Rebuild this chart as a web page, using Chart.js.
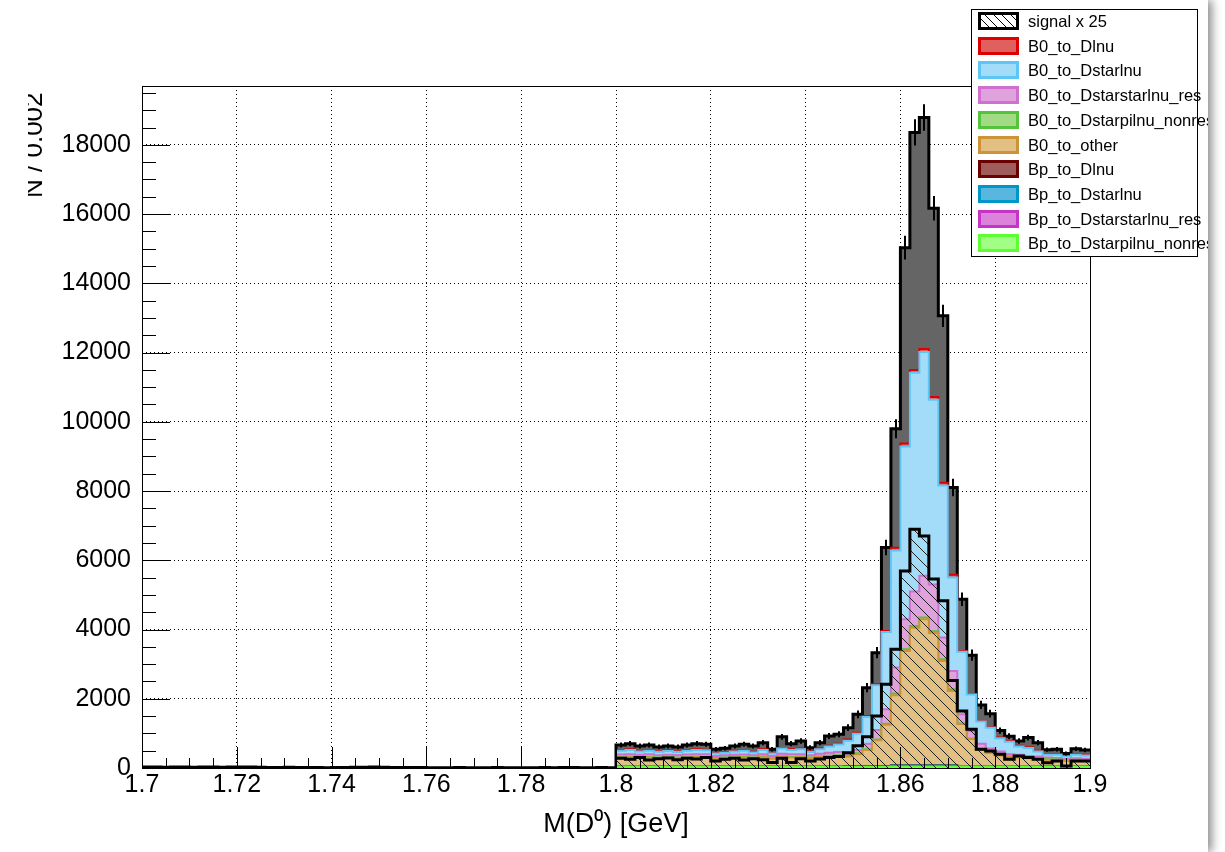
<!DOCTYPE html>
<html>
<head>
<meta charset="utf-8">
<script src="https://cdn.jsdelivr.net/npm/chart.js@4.4.1/dist/chart.umd.min.js"></script>
<style>
html,body{margin:0;padding:0;background:#fff;}
#frame{position:absolute;left:0;top:0;width:1208px;height:852px;overflow:hidden;background:#fff;box-shadow:4px 0 9px rgba(0,0,0,0.45);}
#c{position:absolute;left:0;top:0;}
#ytitle{position:absolute;left:28px;top:80px;width:30px;height:130px;overflow:hidden;}
#ytitle span{position:absolute;left:-8px;top:118px;transform-origin:0 0;transform:rotate(-90deg);white-space:nowrap;font:26px 'Liberation Sans',Arial,sans-serif;line-height:26px;color:#000;}
#legend{position:absolute;left:971px;top:9px;width:225px;height:246px;border:1px solid #000;background:#fff;}
.lbox{position:absolute;left:6px;width:41px;height:18px;box-sizing:border-box;border:3px solid #000;}
.ltxt{position:absolute;left:56px;height:18px;line-height:18px;font:16.5px 'Liberation Sans',Arial,sans-serif;color:#000;white-space:nowrap;}
</style>
</head>
<body>
<div id="frame">
  <canvas id="c" width="1208" height="852"></canvas>
  <div id="ytitle"><span>N / 0.002</span></div>
  <div id="legend"></div>
</div>
<script>
// ---------------- binning (categories) ----------------
const xMin = 1.7, xMax = 1.9, binWidth = 0.002;
const binEdges = Array.from({length: 101}, (_, i) => +(xMin + i * binWidth).toFixed(3));

// ---------------- tick labels ----------------
const xTickValues = [1.7, 1.72, 1.74, 1.76, 1.78, 1.8, 1.82, 1.84, 1.86, 1.88, 1.9];
const xTickLabels = ['1.7', '1.72', '1.74', '1.76', '1.78', '1.8', '1.82', '1.84', '1.86', '1.88', '1.9'];
const yTickValues = [0, 2000, 4000, 6000, 8000, 10000, 12000, 14000, 16000, 18000];
const yTickLabels = ['0', '2000', '4000', '6000', '8000', '10000', '12000', '14000', '16000', '18000'];

// ---------------- series (bins 1.800 ... 1.898) ----------------
const Bp_to_Dstarpilnu_nonres = [30,30,30,30,30,30,30,30,30,30,30,30,30,30,30,30,30,30,30,30,30,30,30,30, 32,32,32,32,32, 35,35,35,35,35,35,35, 30,30,30,30,30,30,30,30,30,30,30,30,30,30];
const Bp_to_Dstarstarlnu_res = [4,4,4,4,4,4,4,4,4,4,4,4,4,4,4,4,4,4,4,4,4,4,4,4, 6,6,6,6,6, 15,15,15,15,15,15,15, 4,4,4,4,4,4,4,4,4,4,4,4,4,4];
const Bp_to_Dstarlnu = [3,3,3,3,3,3,3,3,3,3,3,3,3,3,3,3,3,3,3,3,3,3,3,3, 6,6,6,6,6, 20,20,20,20,20,20,20, 3,3,3,3,3,3,3,3,3,3,3,3,3,3];
const Bp_to_Dlnu = [2,2,2,2,2,2,2,2,2,2,2,2,2,2,2,2,2,2,2,2,2,2,2,2, 4,4,4,4,4, 10,10,10,10,10,10,10, 2,2,2,2,2,2,2,2,2,2,2,2,2,2];
const B0_to_other = [261,271,256,266,251,261,251,261,271,266,231,246,256,261,251,271,231,281,266,271,246,281,301,311, 282,352,472,752,1202, 2020,3300,3970,4220,3820,3010,2145, 1231,801,481,391,321,281,261,241,221,201,191,161,181,171];
const B0_to_Dstarpilnu_nonres = [15,15,15,15,15,15,15,15,15,15,15,15,15,15,15,15,15,15,15,15,15,15,15,15, 25,25,25,25,25, 50,50,50,50,50,50,50, 15,15,15,15,15,15,15,15,15,15,15,15,15,15];
const B0_to_Dstarstarlnu_res = [75,75,70,75,65,70,70,75,75,75,65,65,70,75,65,75,65,75,75,75,70,75,85,95, 65,95,155,275,425, 750,870,1000,1200,1350,630,525, 265,215,165,115,105,65,65,55,55,45,45,45,45,45];
const B0_to_Dstarlnu = [110,120,100,105,100,105,85,110,120,115,70,75,100,110,80,120,70,150,125,140,90,130,180,220, 370,470,770,1290,2230, 3380,4990,6320,6470,5340,4390,2700, 1810,1050,640,600,380,360,240,230,150,80,90,70,100,90];
const B0_to_Dlnu = [20,20,20,20,20,20,20,20,20,20,20,20,20,20,20,20,20,20,20,20,20,20,20,20, 30,30,30,30,30, 80,80,80,80,80,80,80, 20,20,20,20,20,20,20,20,20,20,20,20,20,20];
// unlabelled grey top layer: bins 1.700 ... 1.798 and 1.800 ... 1.898
const greyBelow18 = [30,30,25,30,30,25,30,30,25,30,30,30,25, 15,15,20,15,15,15,10,15,15,20,25,30,25,15,15,15,15, 10,10,5,15,10,5,10,15,10,10, 10,10,15,10,15,15,10,10,15,10];
const greyTop = [145,163,136,145,117,126,127,145,163,155,100,110,136,164,166,191,100,320,163,220,107,171,285,273, 345,530,820,910,2410, 3440,5660,6860,6690,5450,4820,2520, 1495,1120,460,390,200,140,140,280,230,130,140,70,155,140];
// error on stacked total (bins 1.800 ... 1.898)
const totalError = [72,74,71,72,69,71,69,72,74,73,65,67,71,73,71,76,65,84,74,78,68,76,85,87, 96,110,135,162,223, 277,343,379,384,356,320,252, 195,160,119,111,92,85,78,83,76,64,65,57,66,64];
// signal x 25 overlay (bins 1.800 ... 1.898)
const signal_x25 = [280,250,300,230,270,290,240,280,260,300,200,250,280,230,270,240,160,280,160,270,200,260,300,330, 440,640,900,1500,2420, 3430,5690,6900,6700,5460,4830,2530, 1650,1120,540,490,395,250,347,300,250,150,200,60,200,200];

// ---------------- styles ----------------
const FONT = "'Liberation Sans', Arial, Helvetica, sans-serif";
Chart.defaults.font.family = FONT;
Chart.defaults.color = '#000';

const layerDefs = [
  {name: 'Bp_to_Dstarpilnu_nonres', data: Bp_to_Dstarpilnu_nonres, fill: '#a2ff85', line: '#5cff2f'},
  {name: 'Bp_to_Dstarstarlnu_res', data: Bp_to_Dstarstarlnu_res, fill: '#db83db', line: '#c634c6'},
  {name: 'Bp_to_Dstarlnu', data: Bp_to_Dstarlnu, fill: '#58b6df', line: '#0096c8'},
  {name: 'Bp_to_Dlnu', data: Bp_to_Dlnu, fill: '#a05b5b', line: '#6a0000'},
  {name: 'B0_to_other', data: B0_to_other, fill: '#e2bf82', line: '#cc9436'},
  {name: 'B0_to_Dstarpilnu_nonres', data: B0_to_Dstarpilnu_nonres, fill: '#a3db85', line: '#55c43a'},
  {name: 'B0_to_Dstarstarlnu_res', data: B0_to_Dstarstarlnu_res, fill: '#dfa2dd', line: '#cf6fcf'},
  {name: 'B0_to_Dstarlnu', data: B0_to_Dstarlnu, fill: '#a3dcf8', line: '#5cc6f7'},
  {name: 'B0_to_Dlnu', data: B0_to_Dlnu, fill: '#e06060', line: '#dc0000'}
];

function pointsFrom(values, firstEdge) {
  const pts = values.map((v, j) => ({x: binEdges[firstEdge + j], y: v}));
  pts.push({x: binEdges[firstEdge + values.length], y: values[values.length - 1]});
  return pts;
}

function hatchPattern() {
  const c = document.createElement('canvas');
  c.width = 12; c.height = 12;
  const g = c.getContext('2d');
  g.strokeStyle = '#222'; g.lineWidth = 1;
  g.beginPath();
  g.moveTo(-1, -1); g.lineTo(13, 13);
  g.moveTo(11, -1); g.lineTo(13, 1);
  g.moveTo(-1, 11); g.lineTo(1, 13);
  g.stroke();
  return g.createPattern(c, 'repeat');
}

const datasets = layerDefs.map((d, k) => ({
  label: d.name,
  data: pointsFrom(d.data, 50),
  backgroundColor: d.fill,
  borderColor: d.line,
  borderWidth: 2,
  fill: k === 0 ? 'origin' : '-1',
  stepped: true,
  pointRadius: 0,
  order: 0
}));
datasets.push({
  label: 'top',
  data: pointsFrom(greyBelow18.concat(greyTop), 0),
  backgroundColor: '#656565',
  borderColor: '#000',
  borderWidth: 3,
  fill: '-1',
  stepped: true,
  pointRadius: 0,
  order: 0
});
datasets.push({
  label: 'signal x 25',
  data: pointsFrom(signal_x25, 50),
  backgroundColor: hatchPattern(),
  borderColor: '#000',
  borderWidth: 3,
  fill: 'origin',
  stepped: true,
  pointRadius: 0,
  stack: 'signal',
  order: -1
});

const decorPlugin = {
  id: 'decor',
  afterDatasetsDraw(chart) {
    const {ctx, chartArea: a, scales: {x, y}} = chart;
    ctx.save();
    // error bars on stacked total
    ctx.strokeStyle = '#000'; ctx.lineWidth = 2;
    ctx.beginPath();
    for (let j = 0; j < greyTop.length; j++) {
      let total = greyTop[j];
      layerDefs.forEach(d => { total += d.data[j]; });
      const cx = Math.round(x.getPixelForValue(binEdges[50 + j] + binWidth / 2));
      ctx.moveTo(cx, y.getPixelForValue(total - totalError[j]));
      ctx.lineTo(cx, y.getPixelForValue(total + totalError[j]));
    }
    ctx.stroke();
    // frame
    ctx.lineWidth = 1; ctx.strokeStyle = '#000';
    ctx.strokeRect(Math.round(a.left) + 0.5, Math.round(a.top) + 0.5, Math.round(a.right - a.left), Math.round(a.bottom - a.top));
    // inward ticks
    ctx.beginPath();
    for (let v = 1.7; v <= 1.9 + 1e-9; v += 0.005) {
      const vv = +v.toFixed(3);
      const major = Math.abs(vv * 50 - Math.round(vv * 50)) < 1e-6;
      const px = Math.round(x.getPixelForValue(vv)) + 0.5;
      ctx.moveTo(px, a.bottom);
      ctx.lineTo(px, a.bottom - (major ? 21 : 10));
    }
    for (let v = 0; v <= 19700; v += 500) {
      const major = v % 2000 === 0;
      const py = Math.round(y.getPixelForValue(v)) + 0.5;
      ctx.moveTo(a.left, py);
      ctx.lineTo(a.left + (major ? 28 : 14), py);
    }
    ctx.stroke();
    ctx.restore();
  }
};

new Chart(document.getElementById('c'), {
  type: 'line',
  data: {datasets},
  options: {
    responsive: false,
    animation: false,
    devicePixelRatio: 1,
    layout: {padding: {top: 86, right: 118, left: 0, bottom: 0}},
    plugins: {legend: {display: false}, tooltip: {enabled: false}},
    elements: {line: {tension: 0, borderJoinStyle: 'miter'}, point: {radius: 0}},
    scales: {
      x: {
        type: 'linear', min: xMin, max: xMax,
        afterBuildTicks: s => { s.ticks = xTickValues.map(v => ({value: v})); },
        afterFit: s => { s.height = 84; s.paddingLeft = 0; s.paddingRight = 0; },
        ticks: {callback: (v, i) => xTickLabels[i], font: {size: 25}, color: '#000', padding: 2, maxRotation: 0, minRotation: 0, autoSkip: false},
        grid: {color: '#000', lineWidth: 1, drawTicks: false},
        border: {display: false, dash: [1, 3]},
        title: {display: true, text: 'M(D\u2070) [GeV]', font: {size: 27}, color: '#000', padding: {top: 0, bottom: 11}}
      },
      y: {
        type: 'linear', stacked: true, min: 0, max: 19700,
        afterBuildTicks: s => { s.ticks = yTickValues.map(v => ({value: v})); },
        afterFit: s => { s.width = 142; s.paddingTop = 0; s.paddingBottom = 0; },
        ticks: {callback: (v, i) => yTickLabels[i], font: {size: 25}, color: '#000', padding: 11, autoSkip: false},
        grid: {color: '#000', lineWidth: 1, drawTicks: false},
        border: {display: false, dash: [1, 3]}
      }
    }
  },
  plugins: [decorPlugin]
});

// ---------------- legend (HTML) ----------------
const legendEntries = [
  {name: 'signal x 25', hatch: true},
  {name: 'B0_to_Dlnu'}, {name: 'B0_to_Dstarlnu'}, {name: 'B0_to_Dstarstarlnu_res'},
  {name: 'B0_to_Dstarpilnu_nonres'}, {name: 'B0_to_other'}, {name: 'Bp_to_Dlnu'},
  {name: 'Bp_to_Dstarlnu'}, {name: 'Bp_to_Dstarstarlnu_res'}, {name: 'Bp_to_Dstarpilnu_nonres'}
];
const legend = document.getElementById('legend');
legendEntries.forEach((e, k) => {
  const top = 2 + k * 24.7;
  const box = document.createElement('div');
  box.className = 'lbox';
  box.style.top = top + 'px';
  if (e.hatch) {
    box.style.borderColor = '#000';
    box.style.background = 'repeating-linear-gradient(45deg, #fff 0 5px, #000 5px 6px)';
  } else {
    const d = layerDefs.find(l => l.name === e.name);
    box.style.borderColor = d.line;
    box.style.background = d.fill;
  }
  legend.appendChild(box);
  const t = document.createElement('div');
  t.className = 'ltxt';
  t.style.top = top + 'px';
  t.textContent = e.name;
  legend.appendChild(t);
});
</script>
</body>
</html>
